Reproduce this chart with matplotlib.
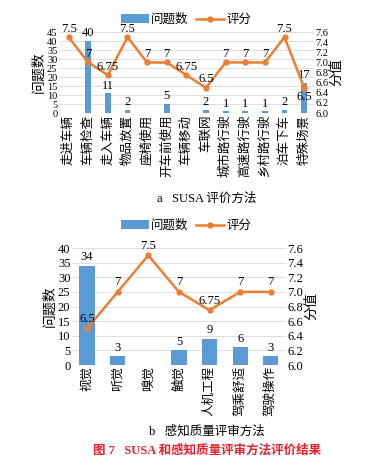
import matplotlib
matplotlib.use("Agg")
import matplotlib.pyplot as plt
import numpy as np

plt.rcParams['font.family'] = ['Liberation Serif', 'Noto Sans CJK SC']

cats_a = ["走进车辆", "车辆检查", "走入车辆", "物品放置", "座椅使用", "开车前使用", "车辆移动",
          "车联网", "城市路行驶", "高速路行驶", "乡村路行驶", "泊车下车", "特殊场景"]
count_a = [0, 40, 11, 2, 0, 5, 0, 2, 1, 1, 1, 2, 17]
score_a = [7.5, 7, 6.75, 7.5, 7, 7, 6.75, 6.5, 7, 7, 7, 7.5, 6.5]

cats_b = ["视觉", "听觉", "嗅觉", "触觉", "人机工程", "驾乘舒适", "驾驶操作"]
count_b = [34, 3, 0, 5, 9, 6, 3]
score_b = [6.5, 7, 7.5, 7, 6.75, 7, 7]

BAR = "#5B9BD5"
LINE = "#ED7D31"
FS = 9

fig = plt.figure(figsize=(3.72, 4.58), dpi=100)

def fmt(v):
    return ("%g" % v)

def panel(rect, cats, counts, scores, ymax, barw, yfs, below_last=False):
    ax = fig.add_axes(rect)
    x = np.arange(len(cats))
    bars = ax.bar(x, counts, width=barw, color=BAR, label="问题数", zorder=2)
    ax.set_ylim(0, ymax)
    ax.set_yticks(np.arange(0, ymax + 1, 5))
    ax.set_xlim(-0.5, len(cats) - 0.5)
    ax.set_xticks(x)
    ax.set_xticklabels(cats, rotation=90, fontsize=FS, va='top')
    ax.tick_params(axis='x', length=0, labelsize=FS, pad=1)
    ax.tick_params(axis='y', length=0, labelsize=yfs, pad=1)
    ax.yaxis.grid(True, color="#d9d9d9", lw=0.6, zorder=0)
    ax.set_axisbelow(True)
    for s in ax.spines.values():
        s.set_visible(False)
    ax.set_ylabel("问题数", fontsize=FS + 1, labelpad=1)
    for xi, c in zip(x, counts):
        if c > 0:
            ax.text(xi, c + ymax * 0.02, str(c), ha='center', va='bottom', fontsize=FS)
    ax2 = ax.twinx()
    ln, = ax2.plot(x, scores, color=LINE, lw=1.8, marker='o', ms=3.5, label="评分", zorder=3)
    ax2.set_ylim(6.0, 7.6)
    ax2.set_yticks(np.arange(6.0, 7.61, 0.2))
    ax2.set_yticklabels(["%.1f" % v for v in np.arange(6.0, 7.61, 0.2)])
    ax2.tick_params(axis='y', length=0, labelsize=yfs, pad=1)
    for s in ax2.spines.values():
        s.set_visible(False)
    ax2.set_ylabel("分值", fontsize=FS + 1, labelpad=1)
    n = len(scores)
    for i, (xi, sv) in enumerate(zip(x, scores)):
        if below_last and i == n - 1:
            ax2.text(xi, sv - 0.06, fmt(sv), ha='center', va='top', fontsize=FS)
        else:
            ax2.text(xi, sv + 0.05, fmt(sv), ha='center', va='bottom', fontsize=FS)
    return ax, ax2, bars, ln

ax, ax2, b1, l1 = panel([0.158, 0.753, 0.686, 0.177], cats_a, count_a, score_a, 45, 0.3, 7.5,
                        below_last=True)
fig.legend([b1, l1], ["问题数", "评分"], loc='center', bbox_to_anchor=(0.5, 1 - 20 / 458), ncol=2,
           frameon=False, fontsize=FS, handlelength=2.2, columnspacing=0.6, handletextpad=0.2)
fig.text(0.556, 1 - 199 / 458, "a   SUSA 评价方法", ha='center', va='center', fontsize=FS)

bx, bx2, b2, l2 = panel([0.193, 0.203, 0.576, 0.2555], cats_b, count_b, score_b, 40, 0.5, FS)
fig.legend([b2, l2], ["问题数", "评分"], loc='center', bbox_to_anchor=(0.5, 1 - 226 / 458), ncol=2,
           frameon=False, fontsize=FS, handlelength=2.2, columnspacing=0.6, handletextpad=0.2)
fig.text(0.556, 1 - 431 / 458, "b   感知质量评审方法", ha='center', va='center', fontsize=FS)
fig.text(0.556, 1 - 451 / 458, "图 7   SUSA 和感知质量评审方法评价结果", ha='center', va='center',
         fontsize=FS, color="#e8202a", fontweight='bold')

fig.savefig("out.png", dpi=100)
